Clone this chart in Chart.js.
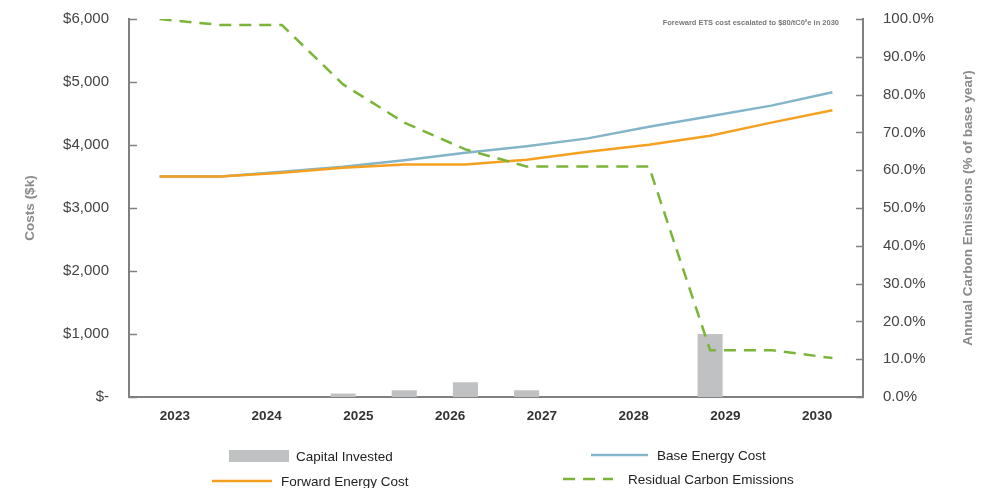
<!DOCTYPE html>
<html>
<head>
<meta charset="utf-8">
<script src="https://cdn.jsdelivr.net/npm/chart.js@4/dist/chart.umd.min.js"></script>
<style>
  html, body { margin: 0; padding: 0; background: #fff; }
  #wrap { width: 991px; height: 488px; position: relative; }
</style>
</head>
<body>
<div id="wrap"><canvas id="costChart"></canvas></div>
<script>
// twelve plotting periods, eight labelled years underneath
var periods = ["P1", "P2", "P3", "P4", "P5", "P6", "P7", "P8", "P9", "P10", "P11", "P12"];
var years = ["2023", "2024", "2025", "2026", "2027", "2028", "2029", "2030"];

// $k
var capitalInvested = [0, 0, 0, 55, 107, 234, 107, 0, 0, 1000, 0, 0];
var baseEnergyCost = [3500, 3500, 3575, 3655, 3757, 3877, 3981, 4105, 4291, 4455, 4625, 4837];
var forwardEnergyCost = [3500, 3500, 3560, 3640, 3690, 3690, 3766, 3893, 4005, 4148, 4355, 4550];
// % of base year
var residualEmissions = [100, 98.4, 98.4, 82.7, 72.6, 65.5, 61, 61, 61, 12.4, 12.4, 10.3];

var costTickStep = 1000;
var emissionTickStep = 10;
var noteText = "Foreward ETS cost escalated to $80/tC0\u00b2e in 2030";
var emissionAxisTitle = "Annual Carbon Emissions (% of base year)";

var axisColor = "#808080";
var titleColor = "#8a8a8a";
var tickFont = { family: "Liberation Sans", size: 15 };
var legendFont = '13.5px "Liberation Sans"';

// legend slots: [dataset index, swatch x, swatch y, swatch width, text x]
var legendSlots = [
  [0, 229, 456, 60, 296],
  [1, 591, 455, 57, 657],
  [2, 212, 481, 60, 281],
  [3, 563, 479, 50, 628]
];

var chartExtras = {
  id: "chartExtras",
  afterDraw: function (chart) {
    var ctx = chart.ctx;
    var area = chart.chartArea;
    var y = chart.scales.y;
    var y2 = chart.scales.y2;
    ctx.save();

    // tick marks point into the plot on both value axes
    ctx.strokeStyle = axisColor;
    ctx.lineWidth = 1.5;
    y.ticks.forEach(function (t) {
      var py = Math.round(y.getPixelForValue(t.value)) + 0.5;
      ctx.beginPath();
      ctx.moveTo(area.left, py);
      ctx.lineTo(area.left + 8, py);
      ctx.stroke();
    });
    y2.ticks.forEach(function (t) {
      var py = Math.round(y2.getPixelForValue(t.value)) + 0.5;
      ctx.beginPath();
      ctx.moveTo(area.right - 7, py);
      ctx.lineTo(area.right, py);
      ctx.stroke();
    });

    // right axis title reads bottom to top
    ctx.save();
    ctx.translate(968, (area.top + area.bottom) / 2);
    ctx.rotate(-Math.PI / 2);
    ctx.font = 'bold 13.5px "Liberation Sans"';
    ctx.fillStyle = titleColor;
    ctx.textAlign = "center";
    ctx.textBaseline = "middle";
    ctx.fillText(emissionAxisTitle, 0, 0);
    ctx.restore();

    // note in the top right corner
    ctx.font = 'bold 7.5px "Liberation Sans"';
    ctx.fillStyle = "#777";
    ctx.textAlign = "right";
    ctx.textBaseline = "middle";
    ctx.fillText(noteText, 839, 23);

    // legend
    ctx.textAlign = "left";
    ctx.font = legendFont;
    legendSlots.forEach(function (s) {
      var ds = chart.data.datasets[s[0]];
      if (ds.type === "bar") {
        ctx.fillStyle = ds.backgroundColor;
        ctx.fillRect(s[1], s[2] - 6, s[3], 12);
      } else {
        ctx.strokeStyle = ds.borderColor;
        ctx.lineWidth = ds.borderWidth;
        ctx.setLineDash(ds.borderDash || []);
        ctx.beginPath();
        ctx.moveTo(s[1], s[2]);
        ctx.lineTo(s[1] + s[3], s[2]);
        ctx.stroke();
        ctx.setLineDash([]);
      }
      ctx.fillStyle = "#222";
      ctx.fillText(ds.label, s[4], s[2] + 1);
    });
    ctx.restore();
  }
};

// keep tick padding from pushing the plot top down
function fitValueAxis(width) {
  return function (scale) {
    scale.width = width;
    scale.paddingTop = 0;
    scale.paddingBottom = 0;
  };
}

new Chart("costChart", {
  data: {
    labels: periods,
    datasets: [{
      type: "bar",
      label: "Capital Invested",
      data: capitalInvested,
      backgroundColor: "#c0c1c3",
      barPercentage: 0.41,
      categoryPercentage: 1,
      yAxisID: "y",
      order: 4
    }, {
      type: "line",
      label: "Base Energy Cost",
      data: baseEnergyCost,
      borderColor: "#83b5c9",
      borderWidth: 2.5,
      pointRadius: 0,
      tension: 0,
      yAxisID: "y",
      order: 3
    }, {
      type: "line",
      label: "Forward Energy Cost",
      data: forwardEnergyCost,
      borderColor: "#f5a01f",
      borderWidth: 2.5,
      pointRadius: 0,
      tension: 0,
      yAxisID: "y",
      order: 2
    }, {
      type: "line",
      label: "Residual Carbon Emissions",
      data: residualEmissions,
      borderColor: "#7ab53a",
      borderWidth: 2.5,
      borderDash: [12, 8],
      pointRadius: 0,
      tension: 0,
      yAxisID: "y2",
      order: 1
    }]
  },
  options: {
    responsive: true,
    maintainAspectRatio: false,
    animation: false,
    layout: { padding: { left: 18, right: 10, top: 19, bottom: 0 } },
    plugins: {
      legend: { display: false },
      tooltip: { enabled: false }
    },
    scales: {
      x: {
        type: "category",
        display: false,
        offset: true
      },
      years: {
        type: "category",
        labels: years,
        position: "bottom",
        offset: true,
        grid: { display: false, drawTicks: false },
        border: { display: true, color: axisColor, width: 2 },
        ticks: {
          padding: 11,
          color: "#333",
          font: { family: "Liberation Sans", size: 13.5, weight: "bold" }
        },
        afterFit: function (scale) { scale.height = 91; }
      },
      y: {
        position: "left",
        min: 0,
        max: 6000,
        ticks: {
          stepSize: costTickStep,
          padding: 20,
          color: "#444",
          font: tickFont,
          callback: function (v) {
            return v === 0 ? "$-" : "$" + v.toLocaleString("en-US");
          }
        },
        grid: { display: false, drawTicks: false },
        border: { display: true, color: axisColor, width: 2 },
        title: {
          display: true,
          text: "Costs ($k)",
          color: titleColor,
          font: { family: "Liberation Sans", size: 13.5, weight: "bold" }
        },
        afterFit: fitValueAxis(111)
      },
      y2: {
        position: "right",
        min: 0,
        max: 100,
        ticks: {
          stepSize: emissionTickStep,
          padding: 20,
          color: "#444",
          font: tickFont,
          callback: function (v) { return v.toFixed(1) + "%"; }
        },
        grid: { display: false, drawTicks: false },
        border: { display: true, color: axisColor, width: 2 },
        afterFit: fitValueAxis(118)
      }
    }
  },
  plugins: [chartExtras]
});
</script>
</body>
</html>
